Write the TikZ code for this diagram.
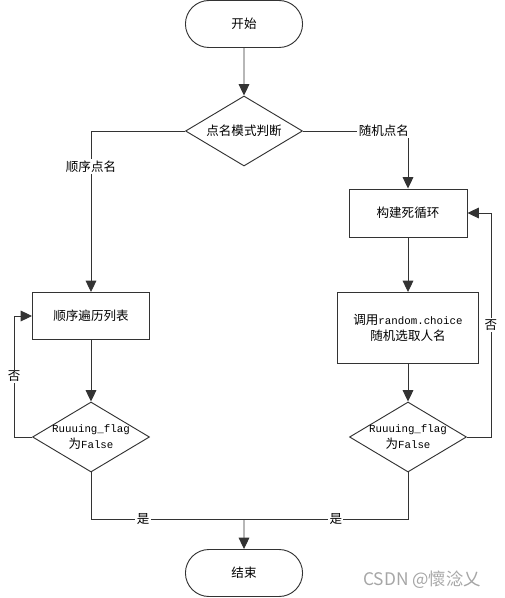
\documentclass[tikz,border=0pt]{standalone}
\usepackage{fontspec}
\setmainfont{Noto Sans CJK SC}
\setmonofont{Liberation Mono}[Scale=0.86]
\usetikzlibrary{shapes.misc,shapes.geometric,arrows.meta}

\begin{document}
\begin{tikzpicture}[x=0.75pt, y=-0.75pt, line width=0.7pt, draw=black!80,
    font=\fontsize{9.4}{12}\selectfont,
    term/.style={rounded rectangle, draw, minimum width=94.5pt, minimum height=35.25pt},
    proc/.style={rectangle, draw, minimum width=87.75pt, minimum height=35.25pt, align=center},
    dec/.style={diamond, draw, inner sep=0pt, aspect=1.67, minimum width=87.75pt, minimum height=52.5pt},
    lbl/.style={fill=white, inner sep=1pt},
    arr/.style={-{Triangle[width=8pt, length=8.5pt]}}]
                \useasboundingbox (0, 0) rectangle (505, 598);

                \node[term] (start) at (244, 24) {开始};
                \node[dec] (judge) at (244, 131) {点名模式判断};

                \node[proc] (order) at (91, 316) {顺序遍历列表};
                \node[dec, label={[align=center]center:\texttt{Ruuuing\_flag}\\为\texttt{False}}] (flagL) at (91, 437) {};

                \node[proc, minimum width=88.5pt, minimum height=36pt] (loop) at (408, 213) {构建死循环};
                \node[proc, minimum width=105.75pt, minimum height=53.25pt] (pick) at (408, 328) {调用\texttt{random.choice}\\随机选取人名};
                \node[dec, label={[align=center]center:\texttt{Ruuuing\_flag}\\为\texttt{False}}] (flagR) at (408, 437) {};

                \coordinate (join) at (244, 519);
                \node[term] (stop) at (244, 573) {结束};

                \draw[arr] (start) -- (judge);
                \draw[arr] (judge.west) -| node[lbl, pos=0.61] {顺序点名} (order.north);
                \draw[arr] (judge.east) -| node[lbl, pos=0.385] {随机点名} (loop.north);

                \draw[arr] (order) -- (flagL);
                \draw[arr] (flagL.west) -- ++(-18, 0) |- node[lbl, pos=0.25] {否} (order.west);

                \draw[arr] (loop) -- (pick);
                \draw[arr] (pick) -- (flagR);
                \draw[arr] (flagR.east) -- ++(24, 0) |- node[lbl, pos=0.25] {否} (loop.east);

                \draw (flagL.south) |- node[lbl, pos=0.67] {是} (join);
                \draw (flagR.south) |- node[lbl, pos=0.72] {是} (join);
                \draw[arr] (join) -- (stop);

                \node[text=black!35, font=\fontsize{13}{15}\selectfont] (mark) at (422, 580) {CSDN @懷淰乂};
\end{tikzpicture}
\end{document}
